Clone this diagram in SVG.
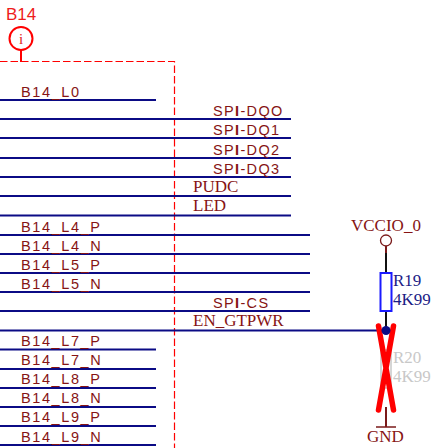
<svg xmlns="http://www.w3.org/2000/svg" width="436" height="448" viewBox="0 0 436 448">
<style>
.w{stroke:#0b0b85;stroke-width:2;fill:none}
.s{font-family:"Liberation Sans",Arial,sans-serif;font-size:14.5px;fill:#861414;letter-spacing:1.35px}
.l{letter-spacing:1.6px}
.t{font-family:"Liberation Serif","Times New Roman",serif;font-size:17px;fill:#861414}
.b{font-family:"Liberation Serif","Times New Roman",serif;font-size:17px;fill:#1c1c85}
.g{font-family:"Liberation Serif","Times New Roman",serif;font-size:17px;fill:#c8c8c8}
.bi{font-weight:bold}
</style>
<rect width="436" height="448" fill="#fff"/>
<g id="block-b14">
<text x="6" y="20" font-family="Liberation Sans,Arial,sans-serif" font-size="17" fill="#ee1c1c">B14</text>
<circle cx="21" cy="38.500" r="11.500" fill="#fff" stroke="#f00" stroke-width="2"/>
<text x="21" y="43.500" text-anchor="middle" font-family="Liberation Serif,serif" font-size="15" fill="#e02020">i</text>
<path d="M21 50V62" stroke="#f00" stroke-width="2" fill="none"/>
<path d="M0 61.500H174.500V448" stroke="#f00" stroke-width="1.200" stroke-dasharray="7.500 3" fill="none"/>
</g>
<g id="connectors">
<path class="w" d="M0 100H156M0 119H291M0 138H291M0 158H291M0 177H291M0 196H291M0 215.500H291M0 235H310M0 254H310M0 273H310M0 292H310M0 311H310M0 330.500H385M0 349.500H156M0 369H156M0 388H156M0 407H156M0 426H156M0 445H156"/>
<path d="M386 253V273M386 311V330" stroke="#111" stroke-width="2" fill="none"/>
<path d="M386 246V253M386 407V427" stroke="#7a1a1a" stroke-width="2" fill="none"/>
<path d="M376 427H396" stroke="#7a1a1a" stroke-width="1.500" fill="none"/>
</g>
<g id="labels">
<text class="s l" x="21" y="97">B14_L0</text>
<text class="s" x="213" y="116">SP<tspan class="bi">I</tspan>-DQO</text>
<text class="s" x="213" y="135">SP<tspan class="bi">I</tspan>-DQ1</text>
<text class="s" x="213" y="155">SP<tspan class="bi">I</tspan>-DQ2</text>
<text class="s" x="213" y="174">SP<tspan class="bi">I</tspan>-DQ3</text>
<text class="t" x="193" y="192">PUDC</text>
<text class="t" x="193" y="211">LED</text>
<text class="s l" x="21" y="231.500">B14_L4_P</text>
<text class="s l" x="21" y="250.500">B14_L4_N</text>
<text class="s l" x="21" y="269.500">B14_L5_P</text>
<text class="s l" x="21" y="288.500">B14_L5_N</text>
<text class="s" x="213" y="307.500">SP<tspan class="bi">I</tspan>-CS</text>
<text class="t" x="193" y="326">EN_GTPWR</text>
<text class="s l" x="21" y="346">B14_L7_P</text>
<text class="s l" x="21" y="365">B14_L7_N</text>
<text class="s l" x="21" y="384">B14_L8_P</text>
<text class="s l" x="21" y="403">B14_L8_N</text>
<text class="s l" x="21" y="422">B14_L9_P</text>
<text class="s l" x="21" y="442">B14_L9_N</text>
</g>
<g id="vccio">
<text class="t" x="351" y="231">VCCIO_0</text>
<circle cx="386" cy="240.500" r="5.500" fill="#fff" stroke="#7a1a1a" stroke-width="1.300"/>
</g>
<g id="r19">
<rect x="380.500" y="273" width="11" height="38" fill="#fff" stroke="#1a1aff" stroke-width="2"/>
<text class="b" x="393" y="286">R19</text>
<text class="b" x="393" y="305">4K99</text>
</g>
<g id="r20">
<rect x="381" y="350" width="10" height="38" fill="#fff" stroke="#c8c8c8" stroke-width="1.500"/>
<text class="g" x="393" y="363">R20</text>
<text class="g" x="393" y="382">4K99</text>
<path d="M378.500 326L393.500 410M393.500 326L378.500 410" stroke="#f00" stroke-width="5.500" stroke-linecap="round" fill="none"/>
</g>
<circle id="junction" cx="386" cy="330.500" r="4.500" fill="#0b0b85"/>
<g id="gnd"><text class="t" x="367" y="442">GND</text></g>
</svg>
